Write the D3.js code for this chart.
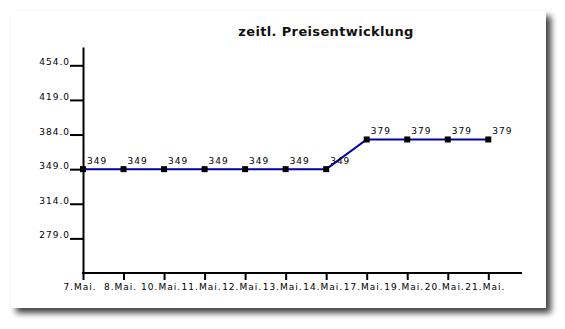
<!DOCTYPE html>
<html><head><meta charset="utf-8">
<script src="https://cdn.jsdelivr.net/npm/d3@7"></script>
<style>
html,body{margin:0;padding:0;background:#fff;}
svg{display:block;}
text{font-family:"DejaVu Sans",sans-serif;}
</style></head>
<body>
<svg id="c" width="565" height="329"></svg>
<script>
const title = "zeitl. Preisentwicklung";
const categories = ["7.Mai.","8.Mai.","10.Mai.","11.Mai.","12.Mai.","13.Mai.","14.Mai.","17.Mai.","19.Mai.","20.Mai.","21.Mai."];
const values = [349,349,349,349,349,349,349,379,379,379,379];
const yTickValues = [279,314,349,384,419,454];

const svg = d3.select("#c");
const defs = svg.append("defs");
const f = defs.append("filter").attr("id","sh").attr("x","-10%").attr("y","-10%").attr("width","120%").attr("height","125%");
f.append("feGaussianBlur").attr("in","SourceAlpha").attr("stdDeviation",3).attr("result","b");
f.append("feOffset").attr("in","b").attr("dx",5).attr("dy",5).attr("result","o");
f.append("feComponentTransfer").attr("in","o").attr("result","o2").append("feFuncA").attr("type","linear").attr("slope",0.75);
const m = f.append("feMerge"); m.append("feMergeNode").attr("in","o2"); m.append("feMergeNode").attr("in","SourceGraphic");

svg.append("rect").attr("x",11).attr("y",11).attr("width",535).attr("height",297).attr("fill","#fff").attr("filter","url(#sh)");

const x = d3.scalePoint().domain(categories).range([83, 488.3]);
const y = d3.scaleLinear().domain([244, 472.5]).range([273, 47]);

svg.append("text").attr("x",326).attr("y",36).attr("text-anchor","middle")
  .attr("font-size",13).attr("font-weight","bold").attr("letter-spacing",0.35).attr("fill","#111").text(title);

// y axis
const ya = svg.append("g").attr("transform","translate(83,0)")
  .call(d3.axisLeft(y).tickValues(yTickValues).tickFormat(d3.format(".1f")).tickSize(13).tickSizeOuter(0));
ya.select(".domain").attr("stroke","#000").attr("stroke-width",2);
ya.selectAll(".tick line").attr("stroke","#000").attr("stroke-width",2);
ya.selectAll(".tick text").attr("font-size",9).attr("letter-spacing",1).attr("fill","#000")
  .attr("font-family","DejaVu Sans").attr("x",-13).attr("dy","-0.05em").attr("dx",0);

// x axis
const xa = svg.append("g").attr("transform","translate(0,273)")
  .call(d3.axisBottom(x).tickSize(7).tickSizeOuter(0));
xa.select(".domain").remove();
xa.append("line").attr("x1",82).attr("x2",522).attr("y1",0).attr("y2",0).attr("stroke","#000").attr("stroke-width",2);
xa.selectAll(".tick line").attr("stroke","#000").attr("stroke-width",2);
xa.selectAll(".tick text").attr("font-size",9).attr("letter-spacing",1).attr("fill","#000")
  .attr("font-family","DejaVu Sans").attr("y",11).attr("dx",-3.5);

const pts = categories.map((c,i)=>({c, v: values[i]}));
svg.append("path").datum(pts).attr("fill","none").attr("stroke","#0000a8").attr("stroke-width",2)
  .attr("d", d3.line().x(d=>x(d.c)).y(d=>y(d.v)));
svg.selectAll("rect.pt").data(pts).join("rect").attr("class","pt")
  .attr("x",d=>x(d.c)-3).attr("y",d=>y(d.v)-3).attr("width",6).attr("height",6).attr("fill","#000");
svg.selectAll("text.lbl").data(pts).join("text").attr("class","lbl")
  .attr("x",d=>x(d.c)+4).attr("y",d=>y(d.v)-5).attr("font-size",9).attr("letter-spacing",1).attr("fill","#000")
  .text(d=>d.v);
</script>
</body></html>
